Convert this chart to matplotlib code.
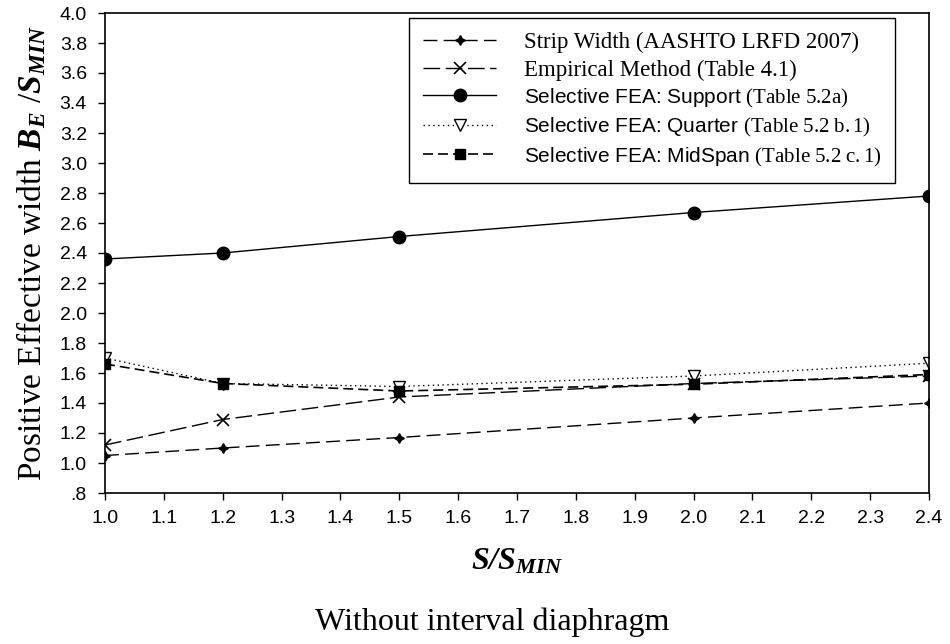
import matplotlib
matplotlib.use('Agg')
import matplotlib.pyplot as plt
from matplotlib.ticker import FuncFormatter

plt.rcParams['font.family'] = 'Liberation Sans'
plt.rcParams['mathtext.fontset'] = 'custom'
plt.rcParams['mathtext.rm'] = 'Liberation Serif'
plt.rcParams['mathtext.it'] = 'Liberation Serif:italic'
plt.rcParams['mathtext.bf'] = 'Liberation Serif:bold'
plt.rcParams['mathtext.bfit'] = 'Liberation Serif:italic:bold'

# data
s_ratio = [1.0, 1.2, 1.5, 2.0, 2.4]
strip_width = [1.05, 1.10, 1.17, 1.30, 1.40]
empirical = [1.12, 1.29, 1.44, 1.53, 1.58]
fea_support = [2.36, 2.40, 2.51, 2.67, 2.78]
fea_quarter = [1.70, 1.53, 1.51, 1.58, 1.665]
fea_midspan = [1.66, 1.53, 1.48, 1.525, 1.59]

labels = [
    'Strip Width (AASHTO LRFD 2007)',
    'Empirical Method (Table 4.1)',
    r'Selective FEA: Support $\mathrm{(Table\ 5.2a)}$',
    r'Selective FEA: Quarter $\mathrm{(Table\ 5.2\ b{.}1)}$',
    r'Selective FEA: MidSpan $\mathrm{(Table\ 5.2\ c{.}1)}$',
]

fig = plt.figure(figsize=(9.5, 6.44), dpi=100)
ax = fig.add_axes([105/950, 1-493/644, (929-105)/950, (493-13)/644])

ax.plot(s_ratio, strip_width, color='black', lw=1.0, dashes=(10, 4.5),
        marker=(4, 1, 0), ms=7, label=labels[0])
ax.plot(s_ratio, empirical, color='black', lw=1.0, dashes=(12, 4),
        marker='x', ms=8, mew=1.2, label=labels[1])
ax.plot(s_ratio, fea_support, color='black', lw=1.0, ls='-',
        marker='o', ms=9, label=labels[2])
ax.plot(s_ratio, fea_quarter, color='black', lw=1.0, dashes=(1, 2.5),
        marker='v', ms=8, mfc='white', mew=1.0, label=labels[3])
ax.plot(s_ratio, fea_midspan, color='black', lw=1.2, dashes=(6, 3),
        marker='s', ms=7, label=labels[4])

ax.set_xlim(1.0, 2.4)
ax.set_ylim(0.8, 4.0)
ax.set_xticks([1.0 + 0.1*i for i in range(15)])
ax.set_yticks([0.8 + 0.2*i for i in range(17)])
ax.xaxis.set_major_formatter(FuncFormatter(lambda v, p: f'{v:.1f}'))
ax.yaxis.set_major_formatter(FuncFormatter(lambda v, p: f'{v:.1f}'.lstrip('0')))
ax.tick_params(axis='both', direction='out', length=5, width=1.0,
               labelsize=14, colors='black')
ax.tick_params(axis='x', pad=7)
ax.tick_params(axis='y', pad=8)
for sp in ax.spines.values():
    sp.set_linewidth(1.2)

ax.set_ylabel(r'Positive Effective width $\mathbfit{B_E}$ /$\mathbfit{S_{MIN}}$',
              family='Liberation Serif', fontsize=24, labelpad=8)
ax.set_xlabel(r'$\mathbfit{S/S_{MIN}}$', fontsize=23, labelpad=14)
fig.text(0.518, 0.034, 'Without interval diaphragm', family='Liberation Serif',
         fontsize=23, ha='center', va='center')

leg = ax.legend(loc='upper right', bbox_to_anchor=(895/950, 1-18/644),
                bbox_transform=fig.transFigure, fontsize=16.5,
                handlelength=3.2, handletextpad=1.2, borderpad=0.6,
                borderaxespad=0, labelspacing=0.28, fancybox=False,
                framealpha=1, edgecolor='black')
leg.get_frame().set_linewidth(1.0)
texts = leg.get_texts()
for t in texts[:2]:
    t.set_family('Liberation Serif')
for t in texts[2:]:
    t.set_family('Liberation Sans')
    t.set_fontsize(15)

fig.savefig('out.png', dpi=100)
